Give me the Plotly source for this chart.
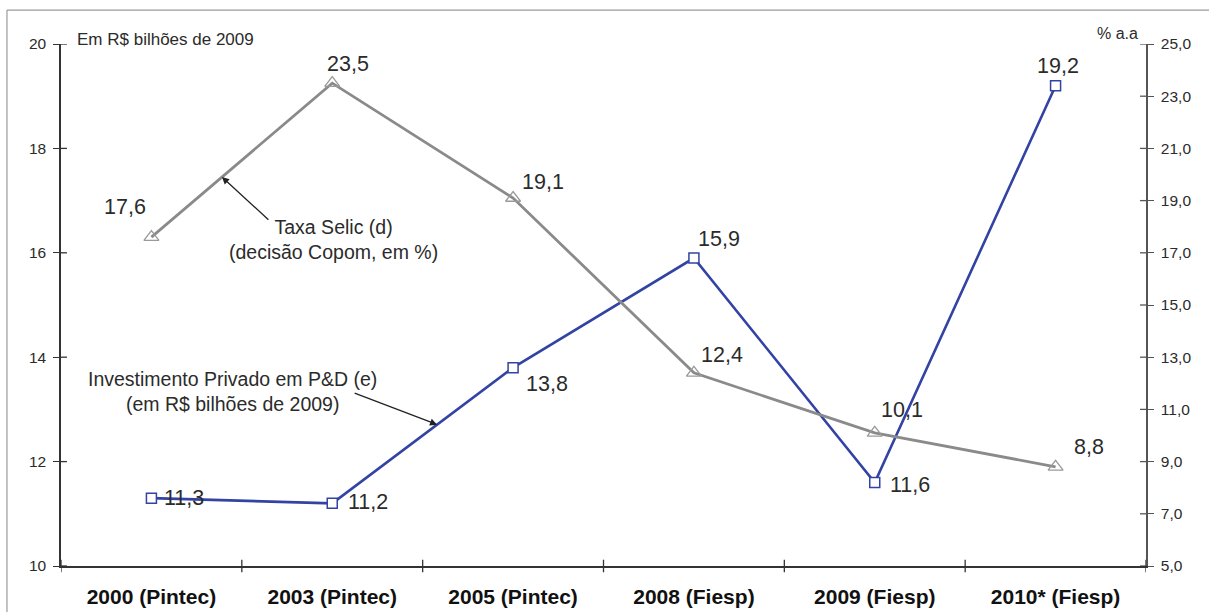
import plotly.graph_objects as go

# Categories and series
categories = ["2000 (Pintec)", "2003 (Pintec)", "2005 (Pintec)",
              "2008 (Fiesp)", "2009 (Fiesp)", "2010* (Fiesp)"]
investimento = [11.3, 11.2, 13.8, 15.9, 11.6, 19.2]   # R$ bilhões de 2009 (left axis)
selic = [17.6, 23.5, 19.1, 12.4, 10.1, 8.8]            # % a.a (right axis)

left_ticks = [10, 12, 14, 16, 18, 20]
right_ticks = [5, 7, 9, 11, 13, 15, 17, 19, 21, 23, 25]

FONT = "Liberation Sans, Arial, sans-serif"
BLUE = "#3343A3"
GRAY = "#8a8a8a"
TXT = "#2b2b2b"

x_idx = list(range(len(categories)))

def fmt(v):
    return f"{v:.1f}".replace(".", ",")

fig = go.Figure()

fig.add_trace(go.Scatter(
    x=x_idx, y=selic, yaxis="y2", mode="lines+markers",
    line=dict(color=GRAY, width=2.8),
    marker=dict(symbol="triangle-up-open", size=13, color="#9a9a9a",
                line=dict(width=1.3, color="#9a9a9a")),
    showlegend=False, hoverinfo="skip",
))
fig.add_trace(go.Scatter(
    x=x_idx, y=investimento, yaxis="y", mode="lines+markers",
    line=dict(color=BLUE, width=2.6),
    marker=dict(symbol="square", size=10, color="white",
                line=dict(width=1.5, color=BLUE)),
    showlegend=False, hoverinfo="skip",
))

annotations = []

# value labels: (xanchor, xshift, yshift)
blue_pos = [("left", 11, 0), ("left", 14, 1), ("left", 11, -16),
            ("left", 2, 19), ("left", 13, -3), ("center", 2, 20)]
gray_pos = [("right", -3, 30), ("left", -7, 19), ("left", 7, 16),
            ("left", 5, 18), ("left", 4, 23), ("left", 16, 20)]

for i, v in enumerate(investimento):
    xa, xs, ys = blue_pos[i]
    annotations.append(dict(x=i, y=v, xref="x", yref="y", text=fmt(v),
                            showarrow=False, xanchor=xa, yanchor="middle",
                            xshift=xs, yshift=ys,
                            font=dict(family=FONT, size=21.5, color=TXT)))
for i, v in enumerate(selic):
    xa, xs, ys = gray_pos[i]
    annotations.append(dict(x=i, y=v, xref="x", yref="y2", text=fmt(v),
                            showarrow=False, xanchor=xa, yanchor="middle",
                            xshift=xs, yshift=ys,
                            font=dict(family=FONT, size=21.5, color=TXT)))

# series captions with arrows pointing to a point on each line
t_selic = 0.39
sx = 0 + t_selic
sy = selic[0] + t_selic * (selic[1] - selic[0])
annotations.append(dict(x=sx, y=sy, xref="x", yref="y2", text="",
                        showarrow=True, arrowhead=2, arrowsize=1.1, arrowwidth=1.3,
                        arrowcolor="#222", ax=48, ay=44))
annotations.append(dict(x=sx, y=sy, xref="x", yref="y2",
                        text="Taxa Selic (d)<br>(decisão Copom, em %)",
                        showarrow=False, xanchor="center", yanchor="top",
                        xshift=112, yshift=-37, align="center",
                        font=dict(family=FONT, size=19.5, color=TXT)))

t_inv = 0.58
ix = 1 + t_inv
iy = investimento[1] + t_inv * (investimento[2] - investimento[1])
annotations.append(dict(x=ix, y=iy, xref="x", yref="y", text="",
                        showarrow=True, arrowhead=2, arrowsize=1.1, arrowwidth=1.3,
                        arrowcolor="#222", ax=-84, ay=-32))
annotations.append(dict(x=ix, y=iy, xref="x", yref="y",
                        text="Investimento Privado em P&D (e)<br>(em R$ bilhões de 2009)",
                        showarrow=False, xanchor="center", yanchor="bottom",
                        xshift=-205, yshift=8, align="center",
                        font=dict(family=FONT, size=19.5, color=TXT)))

# axis unit captions
annotations.append(dict(x=0.013, y=1.0, xref="paper", yref="paper",
                        text="Em R$ bilhões de 2009", showarrow=False,
                        xanchor="left", yanchor="bottom", yshift=-7,
                        font=dict(family=FONT, size=17, color=TXT)))
annotations.append(dict(x=1.0, y=1.0, xref="paper", yref="paper",
                        text="% a.a", showarrow=False,
                        xanchor="right", yanchor="bottom", xshift=-6, yshift=0,
                        font=dict(family=FONT, size=16, color=TXT)))

shapes = []
# crossing tick marks: inner halves on the value axes
for v in left_ticks:
    shapes.append(dict(type="line", xref="paper", yref="y", x0=0, x1=0.0055,
                       y0=v, y1=v, line=dict(color="#333", width=1.3)))
for v in right_ticks:
    shapes.append(dict(type="line", xref="paper", yref="y2", x0=1, x1=0.9945,
                       y0=v, y1=v, line=dict(color="#555", width=1.3)))
# category boundary ticks on the x axis
for k in range(len(categories) + 1):
    shapes.append(dict(type="line", xref="x", yref="paper", x0=k - 0.5, x1=k - 0.5,
                       y0=-0.012, y1=0.012, line=dict(color="#333", width=1.3)))
# outer frame (left and top edges)
shapes.append(dict(type="line", xref="paper", yref="paper", x0=-0.0498, x1=-0.0498,
                   y0=-0.2, y1=1.065, line=dict(color="#9a9a9a", width=1.2)))
shapes.append(dict(type="line", xref="paper", yref="paper", x0=-0.0498, x1=1.1,
                   y0=1.065, y1=1.065, line=dict(color="#9a9a9a", width=1.2)))

fig.update_layout(
    width=1209, height=612,
    margin=dict(l=61, r=63, t=44, b=46),
    paper_bgcolor="white", plot_bgcolor="white",
    separators=",.",
    font=dict(family=FONT, color=TXT),
    xaxis=dict(
        range=[-0.5, len(categories) - 0.5], automargin=False,
        tickmode="array", tickvals=x_idx, ticktext=categories,
        ticks="", showgrid=False, zeroline=False,
        showline=True, linecolor="#333", linewidth=1.5,
        ticklabelstandoff=11,
        tickfont=dict(family=FONT, size=21, color="#111", weight="bold"),
    ),
    yaxis=dict(
        range=[10, 20], tickmode="array", tickvals=left_ticks, automargin=False,
        ticks="outside", ticklen=6, tickwidth=1.3, tickcolor="#333",
        showline=True, linecolor="#333", linewidth=1.5,
        showgrid=False, zeroline=False, ticklabelstandoff=4,
        tickfont=dict(family=FONT, size=15.5, color=TXT),
    ),
    yaxis2=dict(
        range=[5, 25], overlaying="y", side="right", automargin=False,
        tickmode="array", tickvals=right_ticks, tickformat=".1f",
        ticks="outside", ticklen=6, tickwidth=1.3, tickcolor="#555",
        showline=True, linecolor="#555", linewidth=1.5,
        showgrid=False, zeroline=False, ticklabelstandoff=4,
        tickfont=dict(family=FONT, size=15.5, color=TXT),
    ),
    annotations=annotations,
    shapes=shapes,
)

fig.write_html("out.html")
